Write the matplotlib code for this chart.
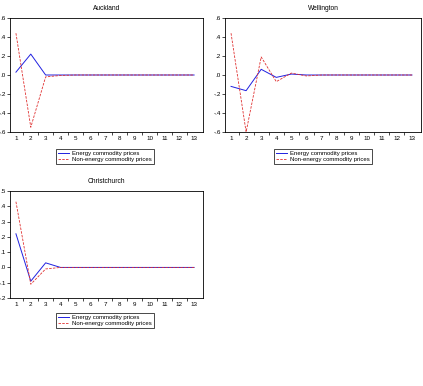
import matplotlib
matplotlib.use("Agg")
import matplotlib.pyplot as plt
from matplotlib.ticker import FuncFormatter, FixedLocator

plt.rcParams['font.family'] = ['Liberation Sans', 'DejaVu Sans']

periods = list(range(1, 14))
auck_energy = [0.03, 0.22, 0.0, 0.0, 0.0, 0.0, 0.0, 0.0, 0.0, 0.0, 0.0, 0.0, 0.0]
auck_nonenergy = [0.44, -0.55, -0.02, -0.005, 0.0, 0.0, 0.0, 0.0, 0.0, 0.0, 0.0, 0.0, 0.0]
well_energy = [-0.12, -0.165, 0.06, -0.025, 0.01, 0.0, 0.0, 0.0, 0.0, 0.0, 0.0, 0.0, 0.0]
well_nonenergy = [0.44, -0.6, 0.19, -0.07, 0.02, -0.01, 0.0, 0.0, 0.0, 0.0, 0.0, 0.0, 0.0]
chch_energy = [0.22, -0.09, 0.03, 0.0, 0.0, 0.0, 0.0, 0.0, 0.0, 0.0, 0.0, 0.0, 0.0]
chch_nonenergy = [0.43, -0.11, -0.01, 0.0, 0.0, 0.0, 0.0, 0.0, 0.0, 0.0, 0.0, 0.0, 0.0]

titles = ["Auckland", "Wellington", "Christchurch"]
series_labels = ["Energy commodity prices", "Non-energy commodity prices"]
yticks_a = [-0.6, -0.4, -0.2, 0.0, 0.2, 0.4, 0.6]
yticks_c = [-0.2, -0.1, 0.0, 0.1, 0.2, 0.3, 0.4, 0.5]

W, H = 423, 386
fig = plt.figure(figsize=(W / 100, H / 100), dpi=100)
fig.patch.set_facecolor("white")

def fmt(v, pos):
    s = "%.1f" % v
    if s.startswith("-0"):
        s = "-" + s[2:]
    elif s.startswith("0"):
        s = s[1:]
    return s

def px_axes(l, t, r, b):
    return fig.add_axes([l / W, 1 - b / H, (r - l) / W, (b - t) / H])

panels = [
    (px_axes(10, 18, 203, 132), auck_energy, auck_nonenergy, yticks_a, (105, 149)),
    (px_axes(225, 18, 421, 132), well_energy, well_nonenergy, yticks_a, (323, 149)),
    (px_axes(10, 191, 203, 298), chch_energy, chch_nonenergy, yticks_c, (105, 313)),
]

for (ax, e, ne, yt, legpos), title in zip(panels, titles):
    l1, = ax.plot(periods, e, color="#2020e0", lw=0.7)
    l2, = ax.plot(periods, ne, color="#e03030", lw=0.6, ls=(0, (3, 1.5)))
    ax.set_xlim(0.6, 13.6)
    ax.set_ylim(yt[0], yt[-1])
    ax.set_yticks(yt)
    ax.yaxis.set_major_formatter(FuncFormatter(fmt))
    ax.set_xticks(periods)
    ax.xaxis.set_minor_locator(FixedLocator([p + 0.5 for p in periods[:-1]] + [0.5]))
    ax.tick_params(axis="x", which="major", length=0, labelsize=4.5, pad=3)
    ax.tick_params(axis="x", which="minor", length=2, width=0.5, direction="out")
    ax.tick_params(axis="y", length=2, width=0.5, labelsize=4.5, pad=1)
    for sp in ax.spines.values():
        sp.set_linewidth(0.6)
    ax.set_title(title, fontsize=4.8, pad=6)
    fig.legend([l1, l2], series_labels, loc="upper center",
               bbox_to_anchor=(legpos[0] / W, 1 - legpos[1] / H),
               fontsize=4.3, frameon=True, fancybox=False, edgecolor="black",
               framealpha=1, handlelength=1.8, borderpad=0.3, labelspacing=0.1,
               handletextpad=0.5, borderaxespad=0).get_frame().set_linewidth(0.5)

fig.savefig("out.png", dpi=100, facecolor="white")
